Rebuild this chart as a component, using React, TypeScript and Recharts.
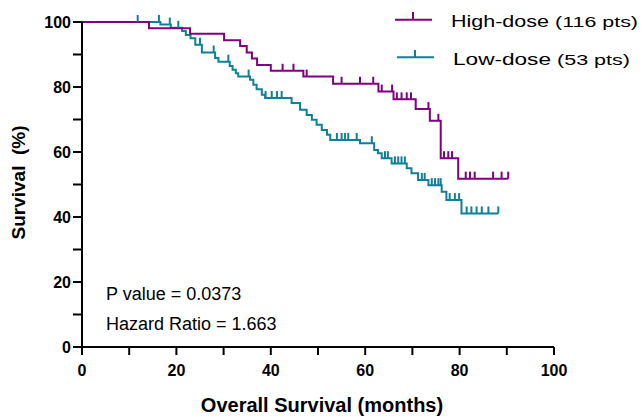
import React from 'react';
import {
  ComposedChart, Line, Scatter, XAxis, YAxis, Legend, Label
} from 'recharts';

// Kaplan-Meier step points (months, survival %)
const highTimes = [0, 14.2, 22.9, 30.1, 33.5, 34.9, 36.0, 37.1, 40.0, 46.9, 53.2, 62.8, 66.0, 70.7, 73.7, 76.0, 79.7, 90.3];
const highSurv = [100, 98.1, 96.4, 94.4, 92.6, 90.6, 88.8, 86.8, 85.0, 83.2, 81.0, 78.6, 76.2, 73.2, 69.6, 58.1, 51.8, 51.8];
const highCensored = [42.5, 44.8, 47.6, 55.0, 58.9, 61.7, 63.5, 65.7, 66.7, 67.7, 68.8, 69.7, 73.4, 75.5, 76.7, 77.6, 78.4, 81.3, 82.2, 83.2, 87.1, 88.9, 90.3];

const lowTimes = [0, 16.6, 18.8, 21.2, 22.0, 23.0, 24.0, 25.4, 28.2, 28.9, 31.3, 31.9, 32.6, 33.1, 35.6, 36.3, 37.0, 38.1, 38.8, 44.4, 46.2, 47.6, 48.7, 49.7, 50.8, 51.9, 52.6, 58.9, 61.9, 62.7, 63.5, 65.6, 68.8, 69.8, 71.2, 73.4, 76.2, 77.2, 80.4, 88.2];
const lowSurv = [100, 99.2, 98.2, 97.2, 96.0, 95.0, 93.0, 90.6, 88.9, 87.8, 86.5, 85.3, 84.2, 83.2, 82.2, 80.7, 79.3, 77.6, 76.6, 75.1, 73.0, 71.4, 69.9, 68.4, 66.8, 65.3, 63.7, 62.7, 60.6, 59.6, 58.1, 56.5, 55.0, 53.5, 51.4, 49.8, 47.8, 45.2, 41.1, 41.1];
const lowCensored = [11.8, 16.3, 18.6, 20.4, 25.0, 27.9, 31.0, 35.3, 38.9, 40.2, 41.3, 42.3, 54.0, 55.0, 55.7, 56.4, 58.2, 61.4, 64.2, 64.8, 66.3, 67.0, 67.7, 68.4, 72.0, 72.6, 74.1, 74.8, 75.5, 76.0, 77.9, 79.0, 79.9, 81.5, 82.5, 83.6, 84.7, 86.1, 88.2];

const axisTicks = [0, 10, 20, 30, 40, 50, 60, 70, 80, 90, 100];

const HIGH = '#800080';
const LOW = '#10809A';
const FONT = '"Liberation Sans", Arial, Helvetica, sans-serif';

const toSteps = (times: number[], surv: number[]) => times.map((x, i) => ({ x, y: surv[i] }));

// survival level at time t, for placing censor marks on the curve
const levelAt = (times: number[], surv: number[], t: number) => {
  let v = surv[0];
  times.forEach((x, i) => { if (x <= t) v = surv[i]; });
  return v;
};

const highData = toSteps(highTimes, highSurv);
const lowData = toSteps(lowTimes, lowSurv);
const highMarks = highCensored.map(x => ({ x, y: levelAt(highTimes, highSurv, x) }));
const lowMarks = lowCensored.map(x => ({ x, y: levelAt(lowTimes, lowSurv, x) }));

const censorShape = (color: string) => (props: any) => (
  <line x1={props.cx} y1={props.cy} x2={props.cx} y2={props.cy - 7} stroke={color} strokeWidth={2} />
);

const LegendBox = () => (
  <svg width={641} height={80} style={{ display: 'block' }}>
    <g fontFamily={FONT} fill="#000">
      <line x1={395} y1={19.7} x2={432} y2={19.7} stroke={HIGH} strokeWidth={2} />
      <line x1={413} y1={19.7} x2={413} y2={12} stroke={HIGH} strokeWidth={2} />
      <text x={451} y={26.7} fontSize={17} textLength={98} lengthAdjust="spacingAndGlyphs">High-dose</text>
      <text x={555} y={26.7} fontSize={14.5} textLength={83} lengthAdjust="spacingAndGlyphs">(116 pts)</text>
      <line x1={397} y1={57.3} x2={434} y2={57.3} stroke={LOW} strokeWidth={2} />
      <line x1={415} y1={57.3} x2={415} y2={50} stroke={LOW} strokeWidth={2} />
      <text x={453} y={65} fontSize={17} textLength={98} lengthAdjust="spacingAndGlyphs">Low-dose</text>
      <text x={557} y={65} fontSize={14.5} textLength={73} lengthAdjust="spacingAndGlyphs">(53 pts)</text>
    </g>
  </svg>
);

const tickFmt = (v: number) => (v % 20 === 0 ? String(v) : '');

export default function App() {
  return (
    <div style={{ position: 'absolute', left: 0, top: 0, width: 641, height: 416, background: '#fff' }}>
      <ComposedChart width={641} height={416} margin={{ top: 22, right: 87, bottom: 0, left: 0 }}>
        <XAxis
          dataKey="x" type="number" domain={[0, 100]} ticks={axisTicks} tickFormatter={tickFmt}
          height={69} tickSize={8} tickMargin={10} interval={0}
          axisLine={{ stroke: '#000', strokeWidth: 2 }} tickLine={{ stroke: '#000', strokeWidth: 2 }}
          tick={{ fill: '#000', fontSize: 16, fontWeight: 700, fontFamily: FONT }}
        >
          <Label content={(p: any) => {
            const vb = p.viewBox;
            return (
              <text x={vb.x + vb.width / 2 + 4} y={411.5} textAnchor="middle" fontFamily={FONT} fontWeight={700} fontSize={20} fill="#000">
                Overall Survival (months)
              </text>
            );
          }} />
        </XAxis>
        <YAxis
          dataKey="y" type="number" domain={[0, 100]} ticks={axisTicks} tickFormatter={tickFmt}
          width={82} tickSize={9} tickMargin={2} interval={0}
          axisLine={{ stroke: '#000', strokeWidth: 2 }} tickLine={{ stroke: '#000', strokeWidth: 2 }}
          tick={{ fill: '#000', fontSize: 16, fontWeight: 700, fontFamily: FONT }}
        >
          <Label content={(p: any) => {
            const vb = p.viewBox;
            const cy = vb.y + vb.height / 2 - 2;
            return (
              <text x={25} y={cy} transform={`rotate(-90, 25, ${cy})`} textAnchor="middle" fontFamily={FONT} fontWeight={700} fontSize={19} fill="#000">
                {'Survival\u00A0 (%)'}
              </text>
            );
          }} />
        </YAxis>
        <Legend layout="vertical" align="center" verticalAlign="middle" content={LegendBox}
          wrapperStyle={{ left: 0, top: 0, width: 641, height: 80, pointerEvents: 'none' }} />
        <Line data={lowData} dataKey="y" type="stepAfter" stroke={LOW} strokeWidth={2} dot={false} isAnimationActive={false} name="Low-dose" />
        <Line data={highData} dataKey="y" type="stepAfter" stroke={HIGH} strokeWidth={2} dot={false} isAnimationActive={false} name="High-dose" />
        <Scatter data={lowMarks} dataKey="y" shape={censorShape(LOW)} isAnimationActive={false} legendType="none" />
        <Scatter data={highMarks} dataKey="y" shape={censorShape(HIGH)} isAnimationActive={false} legendType="none" />
      </ComposedChart>
      <svg width={641} height={416} style={{ position: 'absolute', left: 0, top: 0, pointerEvents: 'none' }}>
        <g fontFamily={FONT} fontSize={18} fill="#000">
          <text x={106} y={300}>P value = 0.0373</text>
          <text x={106} y={329.5}>Hazard Ratio = 1.663</text>
        </g>
      </svg>
    </div>
  );
}
